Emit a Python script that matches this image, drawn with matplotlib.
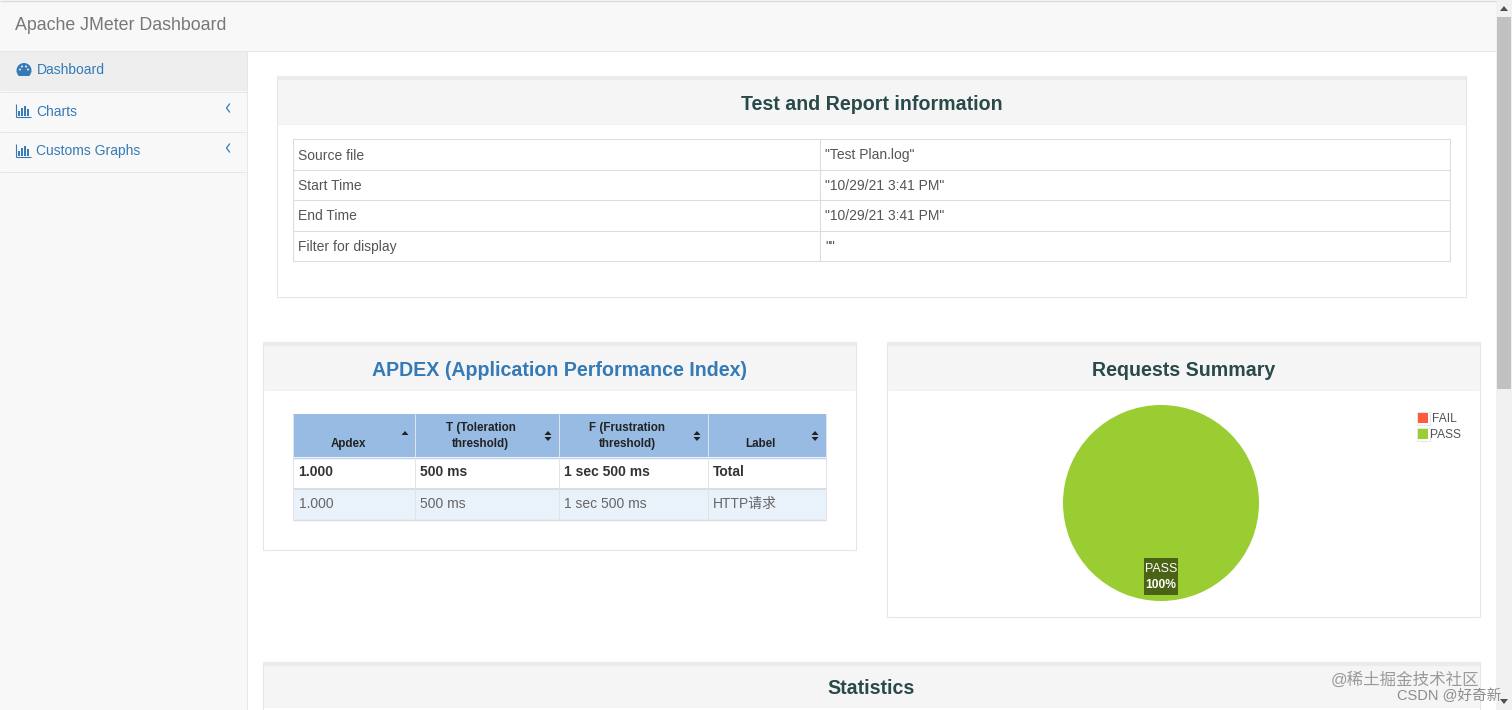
import matplotlib
matplotlib.use("Agg")
import matplotlib.pyplot as plt
from matplotlib.patches import Rectangle, Circle, Polygon, Wedge

# ---- data ----
pie_labels = ["FAIL", "PASS"]
pie_values = [0, 100]
pie_colors = ["#FF5A3C", "#9ACD32"]
menu_items = ["Dashboard", "Charts", "Customs Graphs"]
info_keys = ["Source file", "Start Time", "End Time", "Filter for display"]
info_vals = ['"Test Plan.log"', '"10/29/21 3:41 PM"', '"10/29/21 3:41 PM"', '""']
apdex_head = ["Apdex", "T (Toleration\nthreshold)", "F (Frustration\nthreshold)", "Label"]
apdex_total = ["1.000", "500 ms", "1 sec 500 ms", "Total"]
apdex_row = ["1.000", "500 ms", "1 sec 500 ms", "HTTP请求"]

FONT = ["Liberation Sans", "Noto Sans CJK SC", "DejaVu Sans"]
plt.rcParams["font.family"] = FONT

W, H = 1512, 710
fig = plt.figure(figsize=(W / 100, H / 100), dpi=100, facecolor="white")
ax = fig.add_axes([0, 0, 1, 1])
ax.set_xlim(0, W)
ax.set_ylim(H, 0)
ax.axis("off")


def rect(x0, y0, x1, y1, fc="none", ec="none", lw=0, z=1):
    ax.add_patch(Rectangle((x0, y0), x1 - x0, y1 - y0, facecolor=fc, edgecolor=ec, linewidth=lw, zorder=z))


def hline(y, x0, x1, c="#e7e7e7", lw=0.72, z=3):
    ax.plot([x0, x1], [y, y], color=c, lw=lw, zorder=z, solid_capstyle="butt")


def vline(x, y0, y1, c="#e7e7e7", lw=0.72, z=3):
    ax.plot([x, x], [y0, y1], color=c, lw=lw, zorder=z, solid_capstyle="butt")


def txt(x, y, s, px=14, c="#555555", ha="left", va="center", w="normal", z=6, **kw):
    ax.text(x, y + 1, s, fontsize=px * 0.72, color=c, ha=ha, va=va, fontweight=w, zorder=z, **kw)


def bar_icon(x, y, c="#337ab7"):
    vline(x, y - 7, y + 6, c, 0.8)
    hline(y + 6, x, x + 15, c, 0.8)
    for dx, h in zip((3, 6, 9, 12), (5, 8, 10, 7)):
        vline(x + dx, y + 5 - h, y + 5, c, 1.4)


def chevron(x, y, c="#337ab7"):
    ax.plot([x + 3, x, x + 3], [y - 4, y, y + 4], color=c, lw=0.9, zorder=6)


def sort_icon(x, y, up=True, down=True):
    if up:
        ax.add_patch(Polygon([(x - 3.5, y - 1), (x + 3.5, y - 1), (x, y - 5)], fc="#222222", ec="none", zorder=6))
    if down:
        ax.add_patch(Polygon([(x - 3.5, y + 1), (x + 3.5, y + 1), (x, y + 5)], fc="#222222", ec="none", zorder=6))


# page chrome
rect(0, 0, 1496, 51, fc="#f8f8f8")
hline(0.5, 0, 1496, "#dcdcdc", 1.0)
hline(50.5, 0, 1496, "#e7e7e7")
txt(15, 25, "Apache JMeter Dashboard", px=17.75, c="#777777")
rect(0, 51, 246.5, 710, fc="#f8f8f8")
vline(247, 51, 710)
rect(0, 51, 246.5, 91, fc="#eeeeee")
for y in (91.5, 131.5, 171.5):
    hline(y, 0, 247)
menu_y = [69.5, 110.5, 150.5]
for y, item in zip(menu_y, menu_items):
    txt(36.5, y, item, px=13.9, c="#337ab7")
# dashboard gauge icon
ax.add_patch(Circle((24, 70.5), 7.5, fc="#337ab7", ec="none", zorder=6))
ax.add_patch(Wedge((24, 70.5), 7.6, 50, 130, fc="#337ab7", ec="none", zorder=6))
ax.add_patch(Rectangle((18, 75.5), 12, 3, fc="#eeeeee", ec="none", zorder=6))
for dx, dy in ((-4, -1), (-2, -4), (2, -4), (4, -1)):
    ax.add_patch(Circle((24 + dx, 70.5 + dy), 1.0, fc="#eeeeee", ec="none", zorder=7))
bar_icon(16, 111)
bar_icon(16, 151)
chevron(226.5, 108)
chevron(226.5, 148)

# scrollbar
rect(1496, 0, 1512, 710, fc="#f1f1f1")
rect(1497, 17, 1511, 389, fc="#c1c1c1")
ax.add_patch(Polygon([(1500, 11), (1508, 11), (1504, 6)], fc="#505050", ec="none", zorder=6))
ax.add_patch(Polygon([(1500, 699), (1508, 699), (1504, 704)], fc="#505050", ec="none", zorder=6))


def panel(x0, y0, x1, y1, head_bottom, title, tc, title_y):
    rect(x0, y0, x1, y1, fc="white", ec="#e6e6e6", lw=0.8, z=1)
    rect(x0, y0, x1, y0 + 4, fc="#ebebeb", z=2)
    rect(x0 + 0.5, y0 + 4, x1 - 0.5, head_bottom, fc="#f5f5f5", z=2)
    hline(head_bottom, x0, x1, "#f0f0f0")
    txt((x0 + x1) / 2, title_y, title, px=19.65, c=tc, ha="center", w="bold")


DARK = "#2a4a4a"
panel(277, 76, 1466, 297, 124, "Test and Report information", DARK, 103)
panel(263, 342, 856, 550, 390, "APDEX (Application Performance Index)", "#337ab7", 369)
panel(887, 342, 1480, 617, 390, "Requests Summary", DARK, 369)
# statistics panel runs off the page
rect(263, 662, 1480, 712, fc="white", ec="#e6e6e6", lw=0.8)
rect(263, 662, 1480, 666, fc="#ebebeb", z=2)
rect(263.5, 666, 1479.5, 708, fc="#f5f5f5", z=2)
txt(871, 688, "Statistics", px=19.65, c=DARK, ha="center", w="bold")

# info table
row_edges = [139, 170, 200, 231, 261]
rect(293, 139, 1450, 261, fc="white", z=2)
for y in row_edges:
    hline(y, 293, 1450, "#dddddd", 0.8)
for x in (293, 819.5, 1450):
    vline(x, 139, 261, "#dddddd", 0.8)
for i, (k, v) in enumerate(zip(info_keys, info_vals)):
    yc = (row_edges[i] + row_edges[i + 1]) / 2
    txt(298.5, yc, k, px=13.85)
    txt(825, yc, v, px=13.85)

# APDEX table
cols = [293, 415, 558.5, 707.5, 825.5]
rect(293, 414, 826, 457, fc="#98BBE3", z=2)
rect(293, 457, 826, 488, fc="white", z=2)
rect(293, 488, 826, 519.5, fc="#E9F1FA", z=2)
hline(457.5, 293, 826, "#c0d0e2", 1.0)
hline(488.5, 293, 826, "#d8dce0", 1.3)
hline(519.5, 293, 826, "#d8dce0", 1.0)
for x in cols:
    vline(x, 414, 519.5, "#dfe4ea", 0.72)
for i, head in enumerate(apdex_head):
    xc = (cols[i] + cols[i + 1]) / 2 - 6
    if "\n" in head:
        a, b = head.split("\n")
        txt(xc, 426.5, a, px=11.6, c="#222222", ha="center", w="bold")
        txt(xc, 443, b, px=11.6, c="#222222", ha="center", w="bold")
    else:
        txt(xc, 443, head, px=11.6, c="#222222", ha="center", w="bold")
sort_icon(405, 436, up=True, down=False)
for x in (548, 697, 815):
    sort_icon(x, 436)
for i in range(4):
    txt(cols[i] + 5.5, 471.5, apdex_total[i], px=13.85, c="#333333", w="bold")
    txt(cols[i] + 5.5, 503, apdex_row[i], px=13.85, c="#666666")

# pie chart
cx, cy, r = 1161, 503, 98
pax = fig.add_axes([(cx - r) / W, 1 - (cy + r) / H, 2 * r / W, 2 * r / H])
pax.pie(pie_values, colors=pie_colors, startangle=90, radius=1.0)
pax.set_xlim(-1, 1)
pax.set_ylim(-1, 1)
pax.set_aspect("equal")
pax.axis("off")
pax.set_zorder(2)

# overlay axes on top of the pie
oax = fig.add_axes([0, 0, 1, 1], facecolor="none")
oax.set_xlim(0, W)
oax.set_ylim(H, 0)
oax.axis("off")
oax.set_zorder(3)
oax.add_patch(Rectangle((1144, 558), 34, 37, fc="#4B6314", ec="none"))
oax.text(1161, 568.5, pie_labels[1], fontsize=12 * 0.72 + 0.3, color="white", ha="center", va="center")
oax.text(1161, 585.5, f"{pie_values[1]}%", fontsize=12 * 0.72 + 0.1, color="white", ha="center", va="center", fontweight="bold")
for lab, col, yc, tx in zip(pie_labels, pie_colors, (418, 434), (1432, 1430)):
    oax.add_patch(Rectangle((1416.5, yc - 6.5), 13, 13, fc="white", ec="#e2e2e2", lw=0.6))
    oax.add_patch(Rectangle((1418, yc - 5), 10, 10, fc=col, ec="none"))
    oax.text(tx, yc + 0.5, lab, fontsize=12 * 0.72, color="#545454", ha="left", va="center")

# watermark
oax.text(1479, 680, "@稀土掘金技术社区", fontsize=16.5 * 0.72, color="#9a9a9a", ha="right", va="center")
oax.text(1501, 696, "CSDN @好奇新", fontsize=14.6 * 0.72, color="#8c8c8c", ha="right", va="center")

fig.savefig("out.png", dpi=100, facecolor="white")
